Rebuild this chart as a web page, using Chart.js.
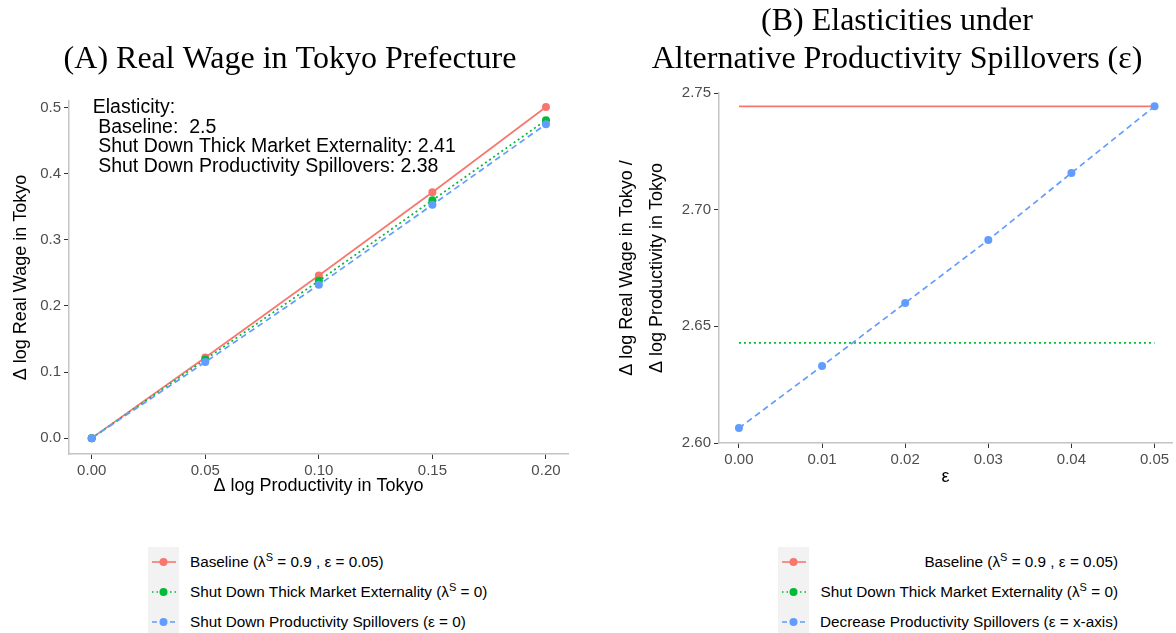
<!DOCTYPE html>
<html>
<head>
<meta charset="utf-8">
<script src="https://cdn.jsdelivr.net/npm/chart.js@4.4.0/dist/chart.umd.min.js"></script>
<style>
  body { margin: 0; width: 1176px; height: 633px; background: #fff; position: relative; overflow: hidden;
         font-family: "Liberation Sans", Arial, sans-serif; }
  .panel { position: absolute; top: 0; height: 500px; }
  #wrapA { left: 0; width: 580px; }
  #wrapB { left: 618px; width: 558px; }
  .legend { position: absolute; top: 547px; font-size: 15.3px; color: #000; }
  .row { display: flex; align-items: center; height: 30px; }
  .key { width: 31px; height: 30px; background: #f2f2f2; flex: none; }
  .key svg { display: block; }
  .lab { padding-left: 11px; white-space: nowrap; }
  #legB .lab { width: 298px; text-align: right; }
  sup { font-size: 11px; vertical-align: 6px; line-height: 0; }
</style>
</head>
<body>
<div class="panel" id="wrapA"><canvas id="chartA" width="580" height="500"></canvas></div>
<div class="panel" id="wrapB"><canvas id="chartB" width="558" height="500"></canvas></div>

<div class="legend" id="legA" style="left:148px"></div>
<div class="legend" id="legB" style="left:778px"></div>

<script>
// ggplot default hues
const RED = "#F8766D", GREEN = "#00BA38", BLUE = "#619CFF";

// Panel A: real wage response to productivity shock in Tokyo
const prodShock = [0, 0.05, 0.10, 0.15, 0.20];
const wageBaseline = [0, 0.122, 0.246, 0.372, 0.501];
const wageNoThick = [0, 0.119, 0.238, 0.360, 0.481];
const wageNoSpill = [0, 0.115, 0.232, 0.353, 0.475];
const ticksAx = [0, 0.05, 0.10, 0.15, 0.20];
const ticksAy = [0, 0.1, 0.2, 0.3, 0.4, 0.5];
const noteLines = ["Elasticity:", " Baseline:  2.5", " Shut Down Thick Market Externality: 2.41", " Shut Down Productivity Spillovers: 2.38"];

// Panel B: elasticity as spillover epsilon varies
const epsGrid = [0, 0.01, 0.02, 0.03, 0.04, 0.05];
const elastBaseline = [2.7443, 2.7443, 2.7443, 2.7443, 2.7443, 2.7443];
const elastNoThick = [2.6429, 2.6429, 2.6429, 2.6429, 2.6429, 2.6429];
const elastDecSpill = [2.6064, 2.6330, 2.6600, 2.6870, 2.7157, 2.7443];
const ticksBx = [0, 0.01, 0.02, 0.03, 0.04, 0.05];
const ticksBy = [2.60, 2.65, 2.70, 2.75];

const legendA = [
  ["Baseline (&lambda;<sup>S</sup> = 0.9 , &epsilon; = 0.05)", RED, null],
  ["Shut Down Thick Market Externality (&lambda;<sup>S</sup> = 0)", GREEN, "1.5 3"],
  ["Shut Down Productivity Spillovers (&epsilon; = 0)", BLUE, "5 4"],
];
const legendB = [
  ["Baseline (&lambda;<sup>S</sup> = 0.9 , &epsilon; = 0.05)", RED, null],
  ["Shut Down Thick Market Externality (&lambda;<sup>S</sup> = 0)", GREEN, "1.5 3"],
  ["Decrease Productivity Spillovers (&epsilon; = x-axis)", BLUE, "5 4"],
];

function buildLegend(id, items) {
  const el = document.getElementById(id);
  items.forEach(([text, color, dash]) => {
    const row = document.createElement("div");
    row.className = "row";
    row.innerHTML =
      '<div class="key"><svg width="31" height="30">' +
      '<line x1="4" x2="28" y1="15" y2="15" stroke="' + color + '" stroke-width="1.6"' +
      (dash ? ' stroke-dasharray="' + dash + '"' : "") + '/>' +
      '<circle cx="15.5" cy="15" r="4" fill="' + color + '"/></svg></div>' +
      '<div class="lab">' + text + '</div>';
    el.appendChild(row);
  });
}
buildLegend("legA", legendA);
buildLegend("legB", legendB);

function pts(xs, ys) {
  return xs.map((x, i) => ({ x: x, y: ys[i] }));
}

function series(data, color, dash, radius, order) {
  return {
    data: data,
    borderColor: color,
    backgroundColor: color,
    borderWidth: 1.7,
    borderDash: dash,
    pointRadius: radius,
    pointHoverRadius: radius,
    pointBorderWidth: 0,
    fill: false,
    tension: 0,
    order: order,
  };
}

function axis(min, max, tickList, digits, fit, title) {
  return {
    type: "linear",
    min: min,
    max: max,
    afterBuildTicks: s => { s.ticks = tickList.map(v => ({ value: v })); },
    afterFit: fit,
    ticks: {
      color: "#4d4d4d",
      font: { family: "Liberation Sans", size: 15 },
      padding: 3,
      autoSkip: false,
      maxRotation: 0,
      callback: v => Number(v).toFixed(digits),
    },
    grid: { display: true, drawOnChartArea: false, drawTicks: true, tickLength: 5, color: "#333333", lineWidth: 1 },
    border: { display: true, color: "#c4c4c4", width: 1.5 },
    title: title,
  };
}

const noteA = {
  id: "noteA",
  afterDatasetsDraw(chart) {
    const ctx = chart.ctx;
    const x0 = chart.scales.x.getPixelForValue(0) + 1;
    const y0 = chart.scales.y.getPixelForValue(0.5);
    ctx.save();
    ctx.fillStyle = "#000";
    ctx.font = "19.5px 'Liberation Sans'";
    ctx.textBaseline = "middle";
    ctx.textAlign = "left";
    noteLines.forEach((line, i) => ctx.fillText(line, x0, y0 + i * 19.7));
    ctx.restore();
  },
};

new Chart(document.getElementById("chartA"), {
  type: "line",
  data: {
    datasets: [
      series(pts(prodShock, wageBaseline), RED, [], 4, 2),
      series(pts(prodShock, wageNoThick), GREEN, [2, 3], 4, 1),
      series(pts(prodShock, wageNoSpill), BLUE, [6, 4], 4, 0),
    ],
  },
  options: {
    responsive: false,
    animation: false,
    layout: { padding: { left: 12, right: 12, top: 0, bottom: 0 } },
    plugins: {
      legend: { display: false },
      tooltip: { enabled: false },
      title: {
        display: true,
        text: "(A) Real Wage in Tokyo Prefecture",
        color: "#000",
        font: { family: "Liberation Serif", size: 32, weight: "normal", lineHeight: 38 / 32 },
        padding: { top: 41, bottom: 22 },
      },
    },
    scales: {
      x: axis(-0.01, 0.2097, ticksAx, 2, s => { s.height = 46; },
        { display: true, text: "\u0394 log Productivity in Tokyo", color: "#000",
          font: { family: "Liberation Sans", size: 18 }, padding: { top: 0, bottom: 3 } }),
      y: axis(-0.024, 0.51, ticksAy, 1, s => { s.width = 57; },
        { display: true, text: "\u0394 log Real Wage in Tokyo", color: "#000",
          font: { family: "Liberation Sans", size: 18, lineHeight: 1 }, padding: { top: 0, bottom: 0 } }),
    },
  },
  plugins: [noteA],
});

new Chart(document.getElementById("chartB"), {
  type: "line",
  data: {
    datasets: [
      series(pts(epsGrid, elastBaseline), RED, [], 0, 2),
      series(pts(epsGrid, elastNoThick), GREEN, [2, 3], 0, 1),
      series(pts(epsGrid, elastDecSpill), BLUE, [6, 4], 4, 0),
    ],
  },
  options: {
    responsive: false,
    animation: false,
    layout: { padding: { left: 3, right: 3, top: 0, bottom: 0 } },
    plugins: {
      legend: { display: false },
      tooltip: { enabled: false },
      title: {
        display: true,
        text: ["(B) Elasticities under", "Alternative Productivity Spillovers (\u03b5)"],
        color: "#000",
        font: { family: "Liberation Serif", size: 32, weight: "normal", lineHeight: 38 / 32 },
        padding: { top: 3, bottom: 14 },
      },
    },
    scales: {
      x: axis(-0.0024, 0.0521, ticksBx, 2, s => { s.height = 57; },
        { display: true, text: "\u03b5", color: "#000",
          font: { family: "Liberation Sans", size: 18 }, padding: { top: 0, bottom: 12 } }),
      y: axis(2.60, 2.75, ticksBy, 2, s => { s.width = 98; },
        { display: true, text: ["\u0394 log Real Wage in Tokyo /", "\u0394 log Productivity in Tokyo"], color: "#000",
          font: { family: "Liberation Sans", size: 18, lineHeight: 30 / 18 }, padding: { top: -9, bottom: 0 } }),
    },
  },
});
</script>
</body>
</html>
